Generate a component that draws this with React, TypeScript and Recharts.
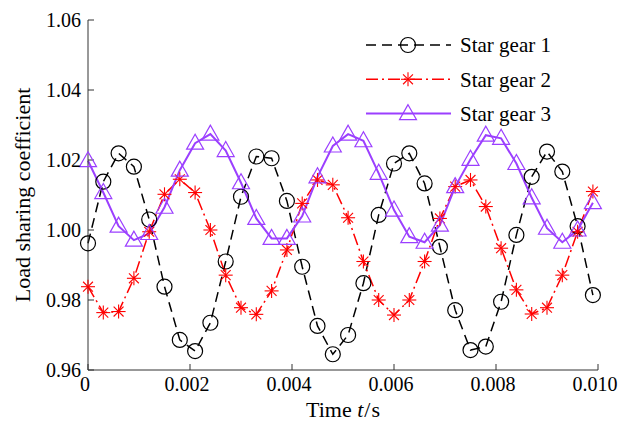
import { LineChart, Line, XAxis, YAxis } from 'recharts'

const times = [
  0, 0.0003, 0.0006, 0.0009, 0.0012, 0.0015, 0.0018, 0.0021, 0.0024, 0.0027,
  0.003, 0.0033, 0.0036, 0.0039, 0.0042, 0.0045, 0.0048, 0.0051, 0.0054, 0.0057,
  0.006, 0.0063, 0.0066, 0.0069, 0.0072, 0.0075, 0.0078, 0.0081, 0.0084, 0.0087,
  0.009, 0.0093, 0.0096, 0.0099,
]

const gear1 = [
  0.9962, 1.0138, 1.0219, 1.0181, 1.003, 0.9838, 0.9686, 0.9654, 0.9735, 0.991,
  1.0095, 1.021, 1.0205, 1.0083, 0.9895, 0.9726, 0.9645, 0.97, 0.9848, 1.0043,
  1.019, 1.0219, 1.0133, 0.9952, 0.9771, 0.9657, 0.9667, 0.9795, 0.9986, 1.0152,
  1.0224, 1.0167, 1.0011, 0.9814,
]

const gear2 = [
  0.9838, 0.9764, 0.9767, 0.9862, 0.9995, 1.0102, 1.0145, 1.0107, 1.0, 0.9871,
  0.9778, 0.9759, 0.9826, 0.9943, 1.0076, 1.0143, 1.0129, 1.0035, 0.991, 0.98,
  0.9757, 0.98, 0.991, 1.0033, 1.0124, 1.0143, 1.0067, 0.9948, 0.9829, 0.976,
  0.9778, 0.9871, 0.9995, 1.011,
]

const gear3 = [
  1.0198, 1.0107, 1.0011, 0.9971, 0.999, 1.0065, 1.0171, 1.0248, 1.0274, 1.0227,
  1.0135, 1.0033, 0.9976, 0.9976, 1.004, 1.0152, 1.024, 1.0274, 1.0255, 1.0162,
  1.0057, 0.9981, 0.9965, 1.0014, 1.0124, 1.0202, 1.0271, 1.0262, 1.019, 1.0092,
  1.0005, 0.9965, 1.0, 1.0078,
]

const xTicks = [0, 0.002, 0.004, 0.006, 0.008, 0.01]
const yTicks = [0.96, 0.98, 1.0, 1.02, 1.04, 1.06]
const seriesNames = ['Star gear 1', 'Star gear 2', 'Star gear 3']

const data = times.map((t, i) => ({ t, g1: gear1[i], g2: gear2[i], g3: gear3[i] }))

const PURPLE = '#9B3FFF'
const RED = '#FF0000'

function CircleMark({ cx, cy }: any) {
  return <circle cx={cx} cy={cy} r={7.5} fill="none" stroke="#000" strokeWidth={1.2} />
}

function StarMark({ cx, cy }: any) {
  const r = 7
  const d = r * 0.707
  return (
    <g stroke={RED} strokeWidth={1.1}>
      <line x1={cx - r} y1={cy} x2={cx + r} y2={cy} />
      <line x1={cx} y1={cy - r} x2={cx} y2={cy + r} />
      <line x1={cx - d} y1={cy - d} x2={cx + d} y2={cy + d} />
      <line x1={cx - d} y1={cy + d} x2={cx + d} y2={cy - d} />
    </g>
  )
}

function TriMark({ cx, cy }: any) {
  return (
    <polygon
      points={`${cx},${cy - 9} ${cx - 8.5},${cy + 6} ${cx + 8.5},${cy + 6}`}
      fill="none"
      stroke={PURPLE}
      strokeWidth={1.2}
    />
  )
}

const legendRows = [
  { color: '#000', dash: '10 6', width: 1.5, Mark: CircleMark },
  { color: RED, dash: '12 4 2 4', width: 1.5, Mark: StarMark },
  { color: PURPLE, dash: undefined, width: 2, Mark: TriMark },
]

// legend drawn on top of the chart so it doesn't take layout space
function LegendBox() {
  return (
    <svg width={250} height={110} style={{ position: 'absolute', left: 360, top: 30 }}>
      {legendRows.map((row, i) => {
        const y = 15 + i * 34.3
        const { Mark } = row
        return (
          <g key={i}>
            <line x1={6} x2={91} y1={y} y2={y} stroke={row.color} strokeWidth={row.width} strokeDasharray={row.dash} />
            <Mark cx={48} cy={y} />
            <text x={100} y={y} dy="0.35em" fontSize={21} fill="#000">
              {seriesNames[i]}
            </text>
          </g>
        )
      })}
    </svg>
  )
}

const tickStyle = { fontSize: 20, fill: '#000' }

export default function App() {
  return (
    <div style={{ position: 'absolute', left: 0, top: 0, width: 618, height: 428, fontFamily: '"Liberation Serif", "Times New Roman", serif', background: '#fff' }}>
      <LineChart width={618} height={428} data={data} margin={{ top: 20, right: 20, bottom: 0, left: 0 }}>
        <XAxis
          dataKey="t"
          type="number"
          domain={[0, 0.01]}
          ticks={xTicks}
          interval={0}
          height={58}
          tickFormatter={(v: number) => (v === 0 ? '0' : v.toFixed(3))}
          tick={{ ...tickStyle, dx: -3 }}
          tickSize={-6}
          tickMargin={13}
          stroke="#333"
        />
        <YAxis
          type="number"
          domain={[0.96, 1.06]}
          ticks={yTicks}
          interval={0}
          width={88}
          tickFormatter={(v: number) => v.toFixed(2)}
          tick={tickStyle}
          tickSize={-6}
          tickMargin={13}
          stroke="#333"
        />
        <Line
          dataKey="g1"
          name={seriesNames[0]}
          stroke="#000"
          strokeWidth={1.5}
          strokeDasharray="10 6"
          dot={(p: any) => <CircleMark key={p.index} cx={p.cx} cy={p.cy} />}
          isAnimationActive={false}
        />
        <Line
          dataKey="g2"
          name={seriesNames[1]}
          stroke={RED}
          strokeWidth={1.5}
          strokeDasharray="12 4 2 4"
          dot={(p: any) => <StarMark key={p.index} cx={p.cx} cy={p.cy} />}
          isAnimationActive={false}
        />
        <Line
          dataKey="g3"
          name={seriesNames[2]}
          stroke={PURPLE}
          strokeWidth={2}
          dot={(p: any) => <TriMark key={p.index} cx={p.cx} cy={p.cy} />}
          isAnimationActive={false}
        />
      </LineChart>
      <LegendBox />
      <div style={{ position: 'absolute', left: 23, top: 195, transform: 'translate(-50%, -50%) rotate(-90deg)', whiteSpace: 'nowrap', fontSize: 22 }}>
        Load sharing coefficient
      </div>
      <div style={{ position: 'absolute', left: 343, top: 410, transform: 'translate(-50%, -50%)', whiteSpace: 'nowrap', fontSize: 22 }}>
        Time <i>t</i>
        <span style={{ margin: '0 1px' }}>/</span>s
      </div>
    </div>
  )
}
